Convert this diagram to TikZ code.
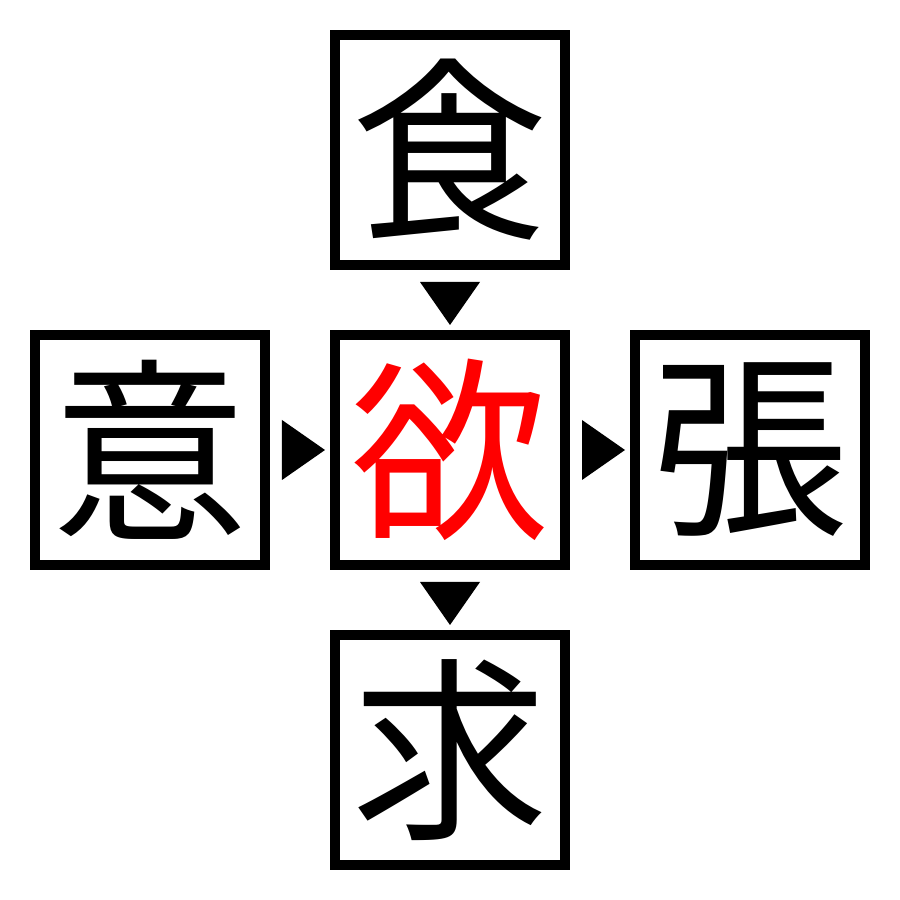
\documentclass[tikz,border=0pt]{standalone}
\usepackage{fontspec}
\newfontfamily\cjk{Noto Sans CJK JP}
\usetikzlibrary{positioning}

\tikzset{
  kanji/.style={draw=black, line width=0.1cm, minimum size=2.3cm, inner sep=0pt,
    font=\cjk\fontsize{56}{56}\selectfont},
  pointer/.style={fill=black}
}

\begin{document}
\begin{tikzpicture}
\useasboundingbox (0,0) rectangle (9,9);
% boxes
\node [kanji] (yoku) at (4.5,4.5) {\textcolor{red}{欲}};
\node [kanji, above=0.6cm of yoku] (shoku) {食};
\node [kanji, left=0.6cm of yoku] (i) {意};
\node [kanji, right=0.6cm of yoku] (cho) {張};
\node [kanji, below=0.6cm of yoku] (kyu) {求};
% triangles
\fill [pointer] ([shift={(-0.3,-0.12)}]shoku.south) -- ([shift={(0,-0.55)}]shoku.south) -- ([shift={(0.3,-0.12)}]shoku.south) -- cycle;
\fill [pointer] ([shift={(0.12,0.3)}]i.east) -- ([shift={(0.55,0)}]i.east) -- ([shift={(0.12,-0.3)}]i.east) -- cycle;
\fill [pointer] ([shift={(0.12,0.3)}]yoku.east) -- ([shift={(0.55,0)}]yoku.east) -- ([shift={(0.12,-0.3)}]yoku.east) -- cycle;
\fill [pointer] ([shift={(-0.3,-0.12)}]yoku.south) -- ([shift={(0,-0.55)}]yoku.south) -- ([shift={(0.3,-0.12)}]yoku.south) -- cycle;
\end{tikzpicture}
\end{document}
